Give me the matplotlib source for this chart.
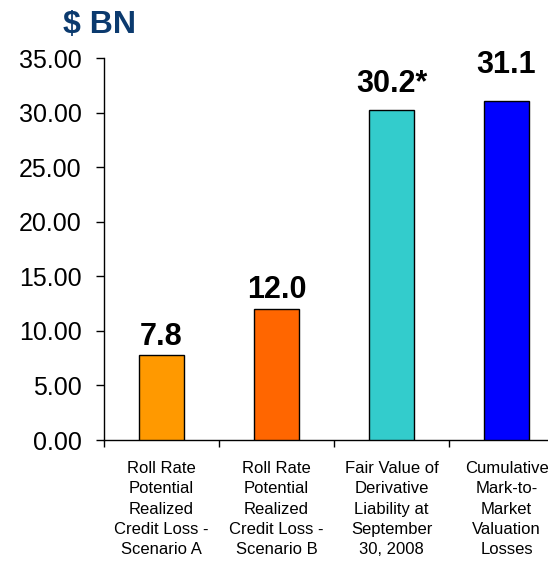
import numpy as np
import matplotlib.pyplot as plt

plt.rcParams['font.family'] = ['Liberation Sans', 'DejaVu Sans']

# values in $ billions
categories = [
    "Roll Rate\nPotential\nRealized\nCredit Loss -\nScenario A",
    "Roll Rate\nPotential\nRealized\nCredit Loss -\nScenario B",
    "Fair Value of\nDerivative\nLiability at\nSeptember\n30, 2008",
    "Cumulative\nMark-to-\nMarket\nValuation\nLosses",
]
values = [7.8, 12.0, 30.2, 31.1]
value_labels = ["7.8", "12.0", "30.2*", "31.1"]
colors = ["#FF9900", "#FF6600", "#33CCCC", "#0000FF"]
label_gap = [7, 8, 13, 20]  # points between bar top and label baseline

fig = plt.figure(figsize=(5.48, 5.63), dpi=100)
ax = fig.add_axes([104 / 548, 123 / 563, 460 / 548, 382 / 563])

x = np.arange(len(values))
ax.bar(x, values, width=0.39, color=colors, edgecolor="black", linewidth=1.0, zorder=3)

for xi, v, lab, gap in zip(x, values, value_labels, label_gap):
    ax.annotate(lab, (xi, v), xytext=(0, gap), textcoords="offset points",
                ha="center", va="baseline", fontsize=22, fontweight="bold")

ax.set_xlim(-0.5, len(values) - 0.5)
ax.set_ylim(0, 35)
ax.set_yticks(np.arange(0, 35.1, 5))
ax.set_yticklabels([f"{t:.2f}" for t in np.arange(0, 35.1, 5)], fontsize=18)

ax.set_xticks(x)
ax.set_xticklabels(categories, fontsize=12, linespacing=1.45)
ax.set_xticks(np.arange(-0.5, len(values), 1), minor=True)
ax.tick_params(axis="x", which="major", length=0, pad=15)
ax.tick_params(axis="x", which="minor", length=5, width=1, direction="out")
ax.tick_params(axis="y", length=6, width=1, direction="out", pad=10)

for side in ["top", "right"]:
    ax.spines[side].set_visible(False)
for side in ["left", "bottom"]:
    ax.spines[side].set_linewidth(1.0)

fig.text(63 / 548, 1 - 33 / 563, "$ BN", fontsize=23, fontweight="bold",
         color="#0B3A6E", ha="left", va="baseline")

fig.savefig("out.png", dpi=100)
